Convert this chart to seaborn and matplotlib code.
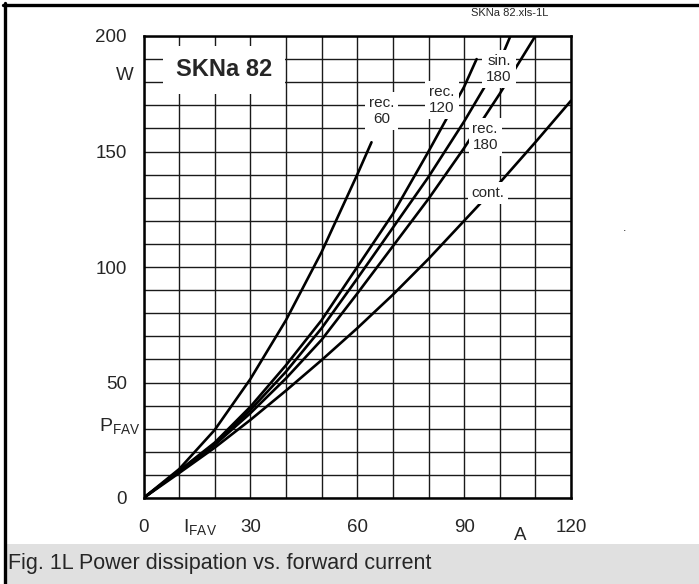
import matplotlib
matplotlib.use("Agg")
import matplotlib.pyplot as plt
from matplotlib.lines import Line2D
from matplotlib.patches import Rectangle
from matplotlib.ticker import MultipleLocator
import seaborn as sns
import pandas as pd

# ---- data ----
rec60_I = [0, 10, 20, 30, 40, 50, 60, 64]
rec60_P = [0, 12.5, 29.5, 51.5, 77, 106.5, 140, 154]

rec120_I = [0, 10, 20, 30, 40, 50, 60, 70, 80, 90, 93.5]
rec120_P = [0, 11.8, 24, 39.5, 57.5, 77, 100, 123, 150, 178, 190]

sin180_I = [0, 10, 20, 30, 40, 50, 60, 70, 80, 90, 100, 103]
sin180_P = [0, 11.6, 23.5, 38.1, 54.7, 73.5, 95, 117, 139, 163, 189, 200]

rec180_I = [0, 10, 20, 30, 40, 50, 60, 70, 80, 90, 100, 110]
rec180_P = [0, 11.5, 23, 36.7, 51.8, 68.5, 88.5, 109, 129.5, 151.5, 175, 200]

cont_I = [0, 10, 20, 30, 40, 50, 60, 70, 80, 90, 100, 110, 120]
cont_P = [0, 10.8, 21.8, 33.8, 46.5, 59.7, 73.5, 88, 103.5, 120, 136.5, 154, 172]

curve_names = ["rec.\n60", "rec.\n120", "sin.\n180", "rec.\n180", "cont."]
label_pos_I = [66.9, 83.8, 99.8, 95.9, 96.7]
label_pos_P = [167.5, 172.3, 185.7, 156.3, 132.0]

x_ticks = [0, 30, 60, 90, 120]
y_ticks = [0, 50, 100, 150, 200]

# ---- long table for seaborn ----
frames = []
for name, I, P in zip(curve_names,
                      [rec60_I, rec120_I, sin180_I, rec180_I, cont_I],
                      [rec60_P, rec120_P, sin180_P, rec180_P, cont_P]):
    frames.append(pd.DataFrame({"I": I, "P": P, "curve": name}))
df = pd.concat(frames, ignore_index=True)

sns.set_style("white")
plt.rcParams["font.family"] = ["Liberation Sans", "DejaVu Sans"]
plt.rcParams["mathtext.fontset"] = "custom"
plt.rcParams["mathtext.rm"] = "Liberation Sans"

W, H = 699, 584
fig = plt.figure(figsize=(W / 100, H / 100), dpi=100)
fig.patch.set_facecolor("white")

ax = fig.add_axes([143.5 / W, 86 / H, 427.5 / W, 462 / H])

sns.lineplot(data=df, x="I", y="P", hue="curve", units="curve", estimator=None,
             sort=False, palette=["black"] * 5, legend=False, linewidth=1.9,
             ax=ax, zorder=3)

ax.set_xlim(0, 120)
ax.set_ylim(0, 200)
ax.set_xticks(x_ticks)
ax.set_yticks(y_ticks)
ax.xaxis.set_minor_locator(MultipleLocator(10))
ax.yaxis.set_minor_locator(MultipleLocator(10))
ax.grid(True, which="both", color="#1a1a1a", linewidth=1.0, zorder=1)
ax.set_axisbelow(True)
ax.tick_params(which="major", direction="out", length=6, width=1.0,
               color="#333333", labelsize=13.5, pad=6)
ax.tick_params(axis="x", which="major", pad=9)
ax.tick_params(which="minor", length=0)
ax.set_xlabel("")
ax.set_ylabel("")
for s in ax.spines.values():
    s.set_linewidth(1.8)
    s.set_color("black")
    s.set_zorder(4)

# curve labels with white boxes
for name, xi, yi in zip(curve_names, label_pos_I, label_pos_P):
    ax.text(xi, yi, name, fontsize=11, ha="center", va="center", zorder=5,
            linespacing=1.25,
            bbox=dict(boxstyle="square,pad=0.25", facecolor="white",
                      edgecolor="none"))

# device name box
ax.text((224 - 143.5) / 3.5625, (498 - 70) / 2.31, "SKNa 82", fontsize=17,
        fontweight="bold", ha="center", va="center", zorder=5,
        bbox=dict(boxstyle="square,pad=0.55", facecolor="white",
                  edgecolor="none"))


def fx(px):
    return px / W


def fy(py):
    return 1 - py / H


# axis unit / quantity labels
fig.text(fx(125), fy(75), "W", fontsize=13.5, ha="center", va="center")
fig.text(fx(141), fy(427), r"$\mathrm{P}_{\mathrm{FAV}}$", fontsize=14,
         ha="right", va="center")
fig.text(fx(200), fy(528), r"$\mathrm{I}_{\mathrm{FAV}}$", fontsize=14,
         ha="center", va="center")
fig.text(fx(520), fy(536), "A", fontsize=13.5, ha="center", va="center")

# file tag
fig.text(fx(510), fy(13), "SKNa 82.xls-1L", fontsize=8, ha="center",
         va="center")
fig.text(fx(625), fy(228), ".", fontsize=9, ha="center", va="center")

# caption band
fig.patches.append(Rectangle((fx(6), 0), 1, 40 / H, transform=fig.transFigure,
                             facecolor="#e0e0e0", edgecolor="none", zorder=0))
fig.text(fx(8), fy(564), "Fig. 1L Power dissipation vs. forward current",
         fontsize=15.5, ha="left", va="center")

# outer frame lines (top and left)
fig.lines.append(Line2D([fx(3), 1], [fy(4.5), fy(4.5)], transform=fig.transFigure,
                        color="black", linewidth=2.4))
fig.lines.append(Line2D([fx(4.5), fx(4.5)], [0, fy(3)], transform=fig.transFigure,
                        color="black", linewidth=2.4))

fig.savefig("out.png", dpi=100)
